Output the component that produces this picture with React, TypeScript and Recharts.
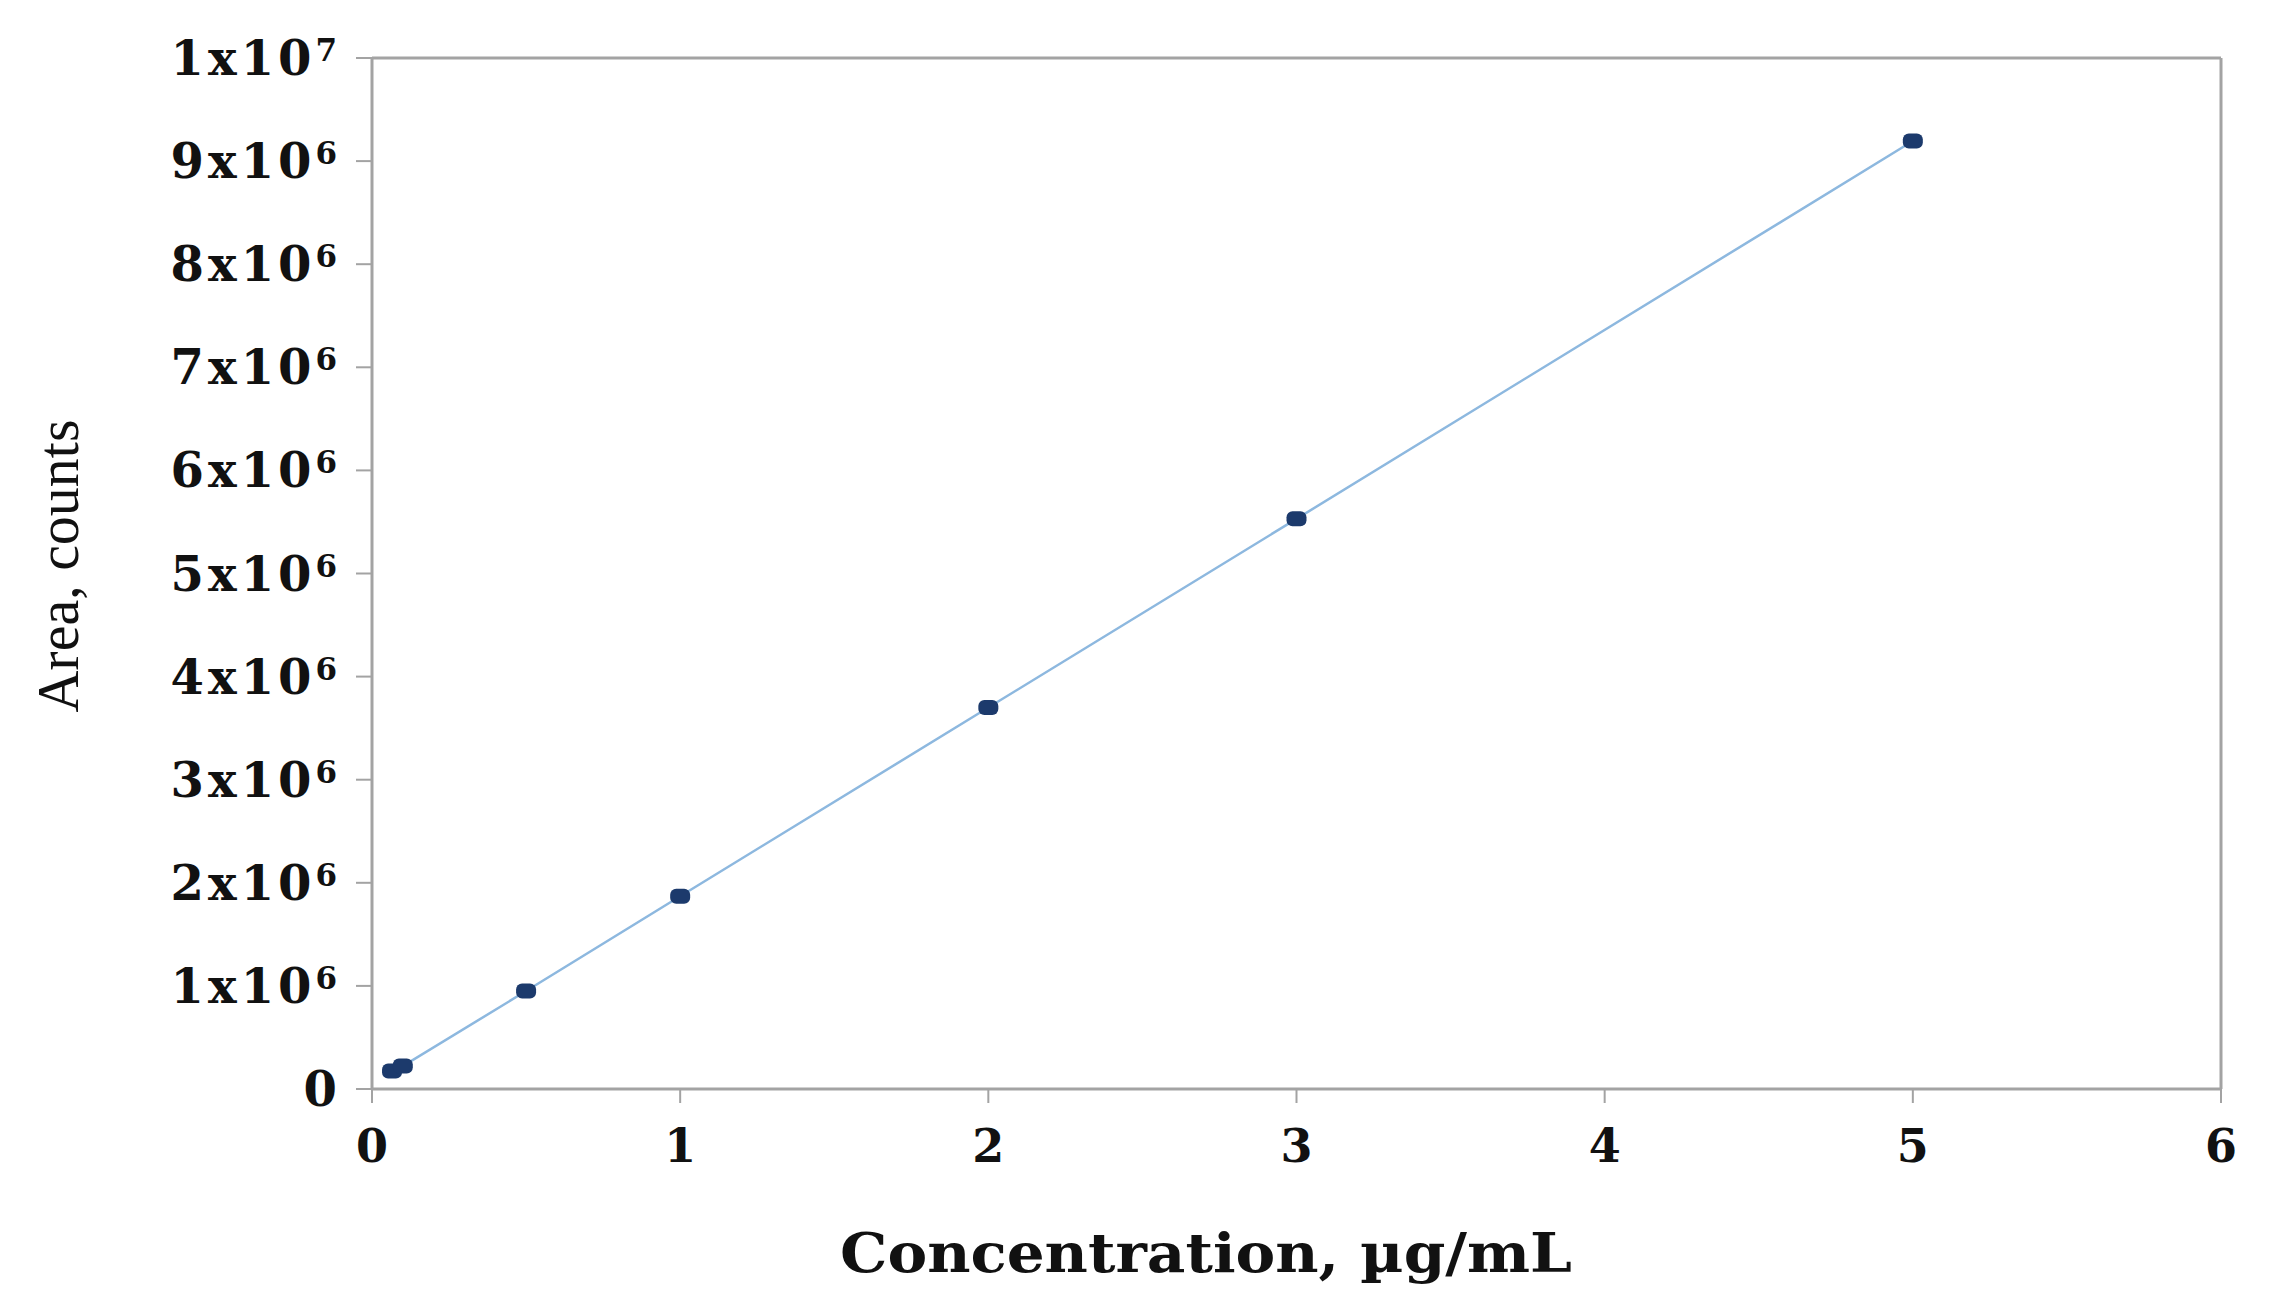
import React from 'react';
import { ScatterChart, Scatter, XAxis, YAxis, ReferenceLine } from 'recharts';

const concentrations = [0.065, 0.1, 0.5, 1, 2, 3, 5];
const areas = [175000, 222000, 950000, 1870000, 3700000, 5530000, 9195000];
const xTicks = [0, 1, 2, 3, 4, 5, 6];
const yTicks = [0, 1000000, 2000000, 3000000, 4000000, 5000000, 6000000, 7000000, 8000000, 9000000, 10000000];
const yTickBase = ['0', '1x10', '2x10', '3x10', '4x10', '5x10', '6x10', '7x10', '8x10', '9x10', '1x10'];
const yTickExp = ['', '6', '6', '6', '6', '6', '6', '6', '6', '6', '7'];

const data = concentrations.map((c, i) => ({ conc: c, area: areas[i] }));

const AXIS = '#a3a3a3';
const TICK_FONT = 'DejaVu Serif';

const Marker = (props: any) => {
  const { cx, cy } = props;
  if (cx == null || cy == null) return null;
  return <rect x={cx - 10} y={cy - 7.5} width={20} height={15} rx={6} ry={6} fill="#1c3a6c" />;
};

const YTick = (props: any) => {
  const { x, y, payload } = props;
  const idx = yTicks.indexOf(payload.value);
  const base = idx >= 0 ? yTickBase[idx] : String(payload.value);
  const exp = idx >= 0 ? yTickExp[idx] : '';
  return (
    <text x={x} y={y} dy={17} textAnchor="end" fontFamily={TICK_FONT} fontWeight="bold" fontSize={48} fill="#111" letterSpacing={4}>
      <tspan>{base}</tspan>
      {exp ? <tspan dy={-14} fontSize={31}>{exp}</tspan> : null}
    </text>
  );
};

const XTick = (props: any) => {
  const { x, y, payload } = props;
  return (
    <text x={x} y={y} dy={34} textAnchor="middle" fontFamily={TICK_FONT} fontWeight="bold" fontSize={46} fill="#111">
      {payload.value}
    </text>
  );
};

const XTitle = () => (
  <text x={1206} y={1272} textAnchor="middle" fontFamily={TICK_FONT} fontWeight="bold" fontSize={54} fill="#111" textLength={732} lengthAdjust="spacingAndGlyphs">
    Concentration, µg/mL
  </text>
);

const YTitle = () => (
  <text x={78} y={566} transform="rotate(-90, 78, 566)" textAnchor="middle" fontFamily="Liberation Serif" fontSize={60} fill="#111" textLength={293} lengthAdjust="spacingAndGlyphs">
    Area, counts
  </text>
);

export default function App() {
  return (
    <div style={{ position: 'absolute', left: 0, top: 0, width: 2278, height: 1304, background: '#fff' }}>
      <ScatterChart width={2278} height={1304} margin={{ top: 58, right: 57, bottom: 0, left: 0 }}>
        <XAxis
          type="number"
          dataKey="conc"
          domain={[0, 6]}
          ticks={xTicks}
          interval={0}
          height={215}
          axisLine={{ stroke: AXIS, strokeWidth: 3 }}
          tickLine={{ stroke: AXIS, strokeWidth: 2 }}
          tickSize={14}
          tickMargin={25}
          tick={<XTick />}
          label={<XTitle />}
        />
        <YAxis
          type="number"
          dataKey="area"
          domain={[0, 10000000]}
          ticks={yTicks}
          interval={0}
          width={372}
          axisLine={{ stroke: AXIS, strokeWidth: 3 }}
          tickLine={{ stroke: AXIS, strokeWidth: 2 }}
          tickSize={16}
          tickMargin={15}
          tick={<YTick />}
          label={<YTitle />}
        />
        <ReferenceLine y={10000000} stroke={AXIS} strokeWidth={3} />
        <ReferenceLine x={6} stroke={AXIS} strokeWidth={3} />
        <Scatter
          data={data}
          dataKey="area"
          fill="#1c3a6c"
          line={{ stroke: '#8db8df', strokeWidth: 2.5 }}
          shape={<Marker />}
          isAnimationActive={false}
        />
      </ScatterChart>
    </div>
  );
}
